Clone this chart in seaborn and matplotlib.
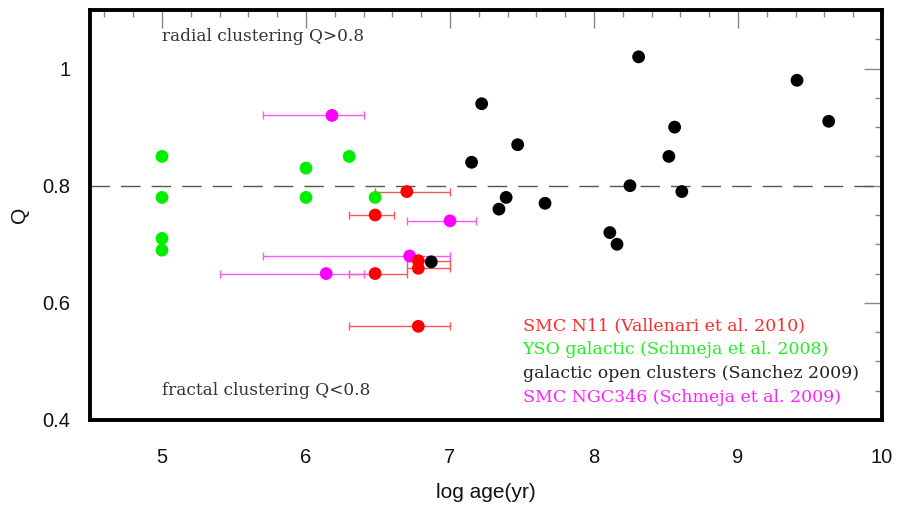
import matplotlib
matplotlib.use("Agg")
import matplotlib.pyplot as plt
from matplotlib.ticker import MultipleLocator
import seaborn as sns
import pandas as pd

# --- data -------------------------------------------------------------
# SMC N11 (Vallenari et al. 2010)
n11_age = [6.70, 6.48, 6.78, 6.78, 6.48, 6.78]
n11_q = [0.79, 0.75, 0.672, 0.659, 0.65, 0.56]
n11_lo = [6.48, 6.30, 6.70, 6.70, 6.30, 6.30]
n11_hi = [7.00, 6.61, 7.00, 7.00, 6.70, 7.00]

# YSO galactic (Schmeja et al. 2008)
yso_age = [5.0, 5.0, 5.0, 5.0, 6.0, 6.0, 6.30, 6.48]
yso_q = [0.85, 0.78, 0.71, 0.69, 0.83, 0.78, 0.85, 0.78]

# galactic open clusters (Sanchez 2009)
oc_age = [6.87, 7.15, 7.22, 7.34, 7.39, 7.47, 7.66, 8.11,
          8.16, 8.25, 8.31, 8.52, 8.56, 8.61, 9.41, 9.63]
oc_q = [0.67, 0.84, 0.94, 0.76, 0.78, 0.87, 0.77, 0.72,
        0.70, 0.80, 1.02, 0.85, 0.90, 0.79, 0.98, 0.91]

# SMC NGC346 (Schmeja et al. 2009)
ngc_age = [6.18, 7.00, 6.72, 6.14]
ngc_q = [0.92, 0.74, 0.68, 0.65]
ngc_lo = [5.70, 6.70, 5.70, 5.40]
ngc_hi = [6.40, 7.18, 7.00, 6.40]

q_threshold = 0.8
x_ticks = [5, 6, 7, 8, 9, 10]
y_ticks = [0.4, 0.6, 0.8, 1.0]
y_tick_labels = ["0.4", "0.6", "0.8", "1"]

legend_lines = [
    ("SMC N11 (Vallenari et al. 2010)", "#ff2a2a"),
    ("YSO galactic (Schmeja et al. 2008)", "#22ee22"),
    ("galactic open clusters (Sanchez 2009)", "#222222"),
    ("SMC NGC346 (Schmeja et al. 2009)", "#ff22ff"),
]

# --- figure -----------------------------------------------------------
sns.set_theme(style="white")
plt.rcParams["font.family"] = ["Liberation Sans", "DejaVu Sans"]

fig = plt.figure(figsize=(9.03, 5.12), dpi=100)
ax = fig.add_axes([0.0997, 0.1797, 0.8770, 0.8008])

# threshold line
ax.axhline(q_threshold, color="#555555", lw=1.0, dashes=(14, 8), zorder=1)

# horizontal age ranges
def age_errors(age, lo, hi):
    return [[a - l for a, l in zip(age, lo)], [h - a for a, h in zip(age, hi)]]

ax.errorbar(n11_age, n11_q, xerr=age_errors(n11_age, n11_lo, n11_hi),
            fmt="none", ecolor="#ff5555", elinewidth=1.0, capsize=2.6,
            capthick=1.0, zorder=2)
ax.errorbar(ngc_age, ngc_q, xerr=age_errors(ngc_age, ngc_lo, ngc_hi),
            fmt="none", ecolor="#ff55ff", elinewidth=1.0, capsize=2.6,
            capthick=1.0, zorder=2)

groups = [
    (yso_age, yso_q, "#00ee00"),
    (oc_age, oc_q, "#000000"),
    (ngc_age, ngc_q, "#ff00ff"),
    (n11_age, n11_q, "#ff0000"),
]
for age, q, col in groups:
    df = pd.DataFrame({"age": age, "Q": q})
    sns.scatterplot(data=df, x="age", y="Q", ax=ax, color=col, s=85,
                    marker="o", edgecolor="none", linewidth=0, zorder=3,
                    legend=False)

# regime annotations
serif = ["DejaVu Serif"]
ax.text(5.0, 1.054, "radial clustering Q>0.8", family=serif, fontsize=12.2,
        color="#333333", va="center", ha="left")
ax.text(5.0, 0.451, "fractal clustering Q<0.8", family=serif, fontsize=12.2,
        color="#333333", va="center", ha="left")

legend_y = [0.561, 0.520, 0.480, 0.439]
for (label, col), yy in zip(legend_lines, legend_y):
    ax.text(7.505, yy, label, family=serif, fontsize=12.5, color=col,
            va="center", ha="left")

# axes
ax.set_xlim(4.5, 10)
ax.set_ylim(0.4, 1.1)
ax.set_xticks(x_ticks)
ax.set_yticks(y_ticks)
ax.set_yticklabels(y_tick_labels)
ax.xaxis.set_minor_locator(MultipleLocator(0.2))
ax.yaxis.set_minor_locator(MultipleLocator(0.05))
ax.tick_params(which="both", direction="in", top=True, right=True,
               color="#888888", width=1.0)
ax.tick_params(which="major", length=13, labelsize=14.5, labelcolor="#111111")
ax.tick_params(which="minor", length=5)
ax.tick_params(axis="x", which="major", pad=20)
ax.tick_params(axis="y", which="major", pad=14)

for side in ["left", "right", "bottom", "top"]:
    ax.spines[side].set_visible(True)
    ax.spines[side].set_color("black")
    ax.spines[side].set_linewidth(2.8)

ax.set_xlabel("log age(yr)", fontsize=15, labelpad=12, color="#111111")
ax.set_ylabel("Q", fontsize=15, labelpad=10, color="#111111")

fig.savefig("out.png", dpi=100)
